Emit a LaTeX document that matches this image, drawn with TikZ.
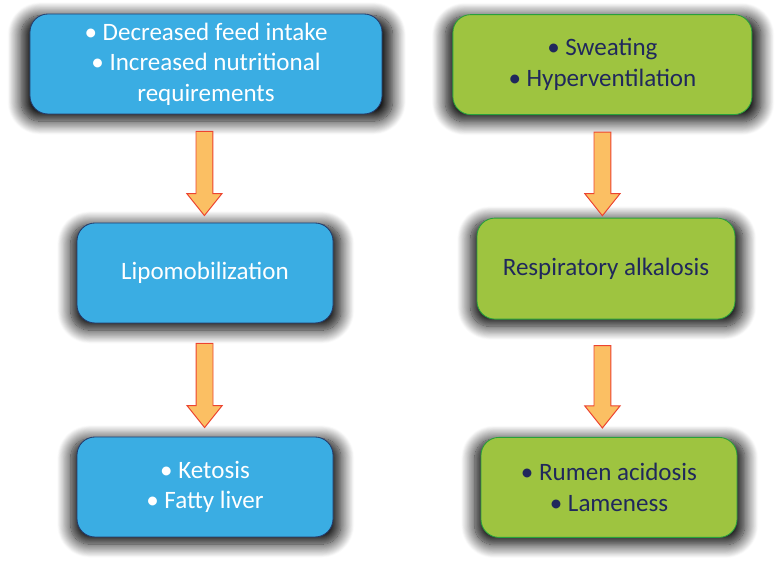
\documentclass[tikz,border=0pt]{standalone}
\usepackage{fontspec}
\setmainfont{Carlito}
\usetikzlibrary{calc,shadows.blur}
\definecolor{boxblue}{RGB}{58,173,227}
\definecolor{blueline}{RGB}{35,60,110}
\definecolor{boxgreen}{RGB}{158,196,64}
\definecolor{greenline}{RGB}{40,160,60}
\definecolor{navytext}{RGB}{32,40,92}
\definecolor{arrowfill}{RGB}{251,191,99}
\definecolor{arrowline}{RGB}{236,68,48}
\tikzstyle{box}=[rectangle, rounded corners=0.45cm, minimum height=2.5cm, align=center, line width=0.6pt,
  font=\fontsize{17.8}{21.8}\selectfont,
  blur shadow={shadow xshift=0.5pt, shadow yshift=-3pt, shadow scale=1.055, shadow blur radius=9pt, shadow blur extra rounding=6pt, shadow opacity=100, shadow blur steps=16}]
\tikzstyle{bluebox}=[box, fill=boxblue, draw=blueline, text=white]
\tikzstyle{greenbox}=[box, fill=boxgreen, draw=greenline, text=navytext]
\tikzstyle{fat}=[fill=arrowfill, draw=arrowline, line width=0.7pt, line join=miter]
\newcommand{\fatarrow}[2]{%
  \draw[fat] ($(#1)+(-0.21,0)$) -- ($(#2)+(-0.21,0.55)$) -- ($(#2)+(-0.44,0.55)$) -- (#2)
    -- ($(#2)+(0.44,0.55)$) -- ($(#2)+(0.21,0.55)$) -- ($(#1)+(0.21,0)$) -- cycle;}

\begin{document}
\begin{tikzpicture}
\useasboundingbox (0,0) rectangle (19.5,14.125);
\node[bluebox, minimum width=8.8cm] (Intake) at (5.15,12.525) {• Decreased feed intake\\• Increased nutritional\\requirements};
\node[bluebox, minimum width=6.4cm] (Lipo) at (5.125,7.3) {Lipomobilization};
\node[bluebox, minimum width=6.4cm] (Ketosis) at (5.125,1.95) {• Ketosis\\• Fatty liver};
\node[greenbox, minimum width=7.475cm] (Sweat) at (15.06,12.51) {• Sweating\\• Hyperventilation};
\node[greenbox, minimum width=6.45cm, minimum height=2.525cm] (Alka) at (15.15,7.41) {Respiratory alkalosis};
\node[greenbox, minimum width=6.4cm] (Acid) at (15.225,1.94) {• Rumen acidosis\\• Lameness};
\coordinate (L1) at ($(Intake.south)+(-0.04,-0.425)$);
\coordinate (L1t) at ($(L1 |- Lipo.north)+(0,0.175)$);
\coordinate (L2) at ($(Lipo.south)+(-0.01,-0.5)$);
\coordinate (L2t) at ($(L2 |- Ketosis.north)+(0,0.225)$);
\coordinate (R1) at ($(Sweat.south)+(0,-0.425)$);
\coordinate (R1t) at ($(R1 |- Alka.north)+(0,0.05)$);
\coordinate (R2) at ($(R1 |- Alka.south)+(0,-0.65)$);
\coordinate (R2t) at ($(R2 |- Acid.north)+(0,0.225)$);
\fatarrow{L1}{L1t}
\fatarrow{L2}{L2t}
\fatarrow{R1}{R1t}
\fatarrow{R2}{R2t}
\end{tikzpicture}
\end{document}
